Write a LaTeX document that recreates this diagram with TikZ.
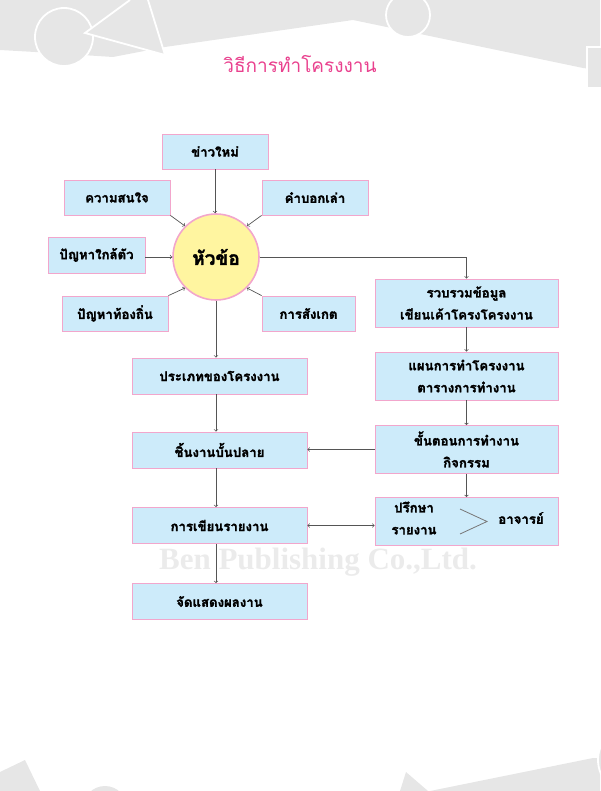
\documentclass[tikz,border=0pt]{standalone}
\usepackage{fontspec}
\newfontfamily\thaifont[Script=Thai,BoldFeatures={FakeBold=1.8}]{Loma}
\setmainfont{Liberation Serif}
\definecolor{boxfill}{HTML}{CDEBFA}
\definecolor{boxline}{HTML}{F2A6CC}
\definecolor{topicfill}{HTML}{FFF5A0}
\definecolor{titlepink}{HTML}{E9418E}
\definecolor{bggray}{HTML}{E6E6E6}
\definecolor{wire}{HTML}{555555}
\begin{document}
\begin{tikzpicture}[x=1pt,y=-1pt,
  box/.style={draw=boxline,fill=boxfill,line width=0.8pt,inner sep=0pt,
    minimum width=106,minimum height=35,align=center,
    font=\thaifont\bfseries\fontsize{13.2}{22}\selectfont},
  wide/.style={box,minimum width=175,minimum height=36},
  rbox/.style={box,minimum width=183,minimum height=48},
  topic/.style={circle,draw=boxline,fill=topicfill,line width=1.6pt,
    minimum size=86,inner sep=0pt,font=\thaifont\bfseries\fontsize{19}{22}\selectfont},
  link/.style={draw=wire,line width=0.7pt,->},
  outline/.style={draw=white,fill=bggray,line width=1.8pt}]
\useasboundingbox (0,0) rectangle (600,791);
% background shapes
\fill[bggray] (0,0) -- (600,0) -- (600,70) -- (583,68) -- (353,20) -- (165,47) -- (113,57) -- (35,52) -- (0,50) -- cycle;
\filldraw[outline] (64,37) circle (29);
\filldraw[outline] (148,0) -- (165,55) -- (85,33) -- (130,0);
\filldraw[outline] (408,15) circle (22);
\filldraw[outline] (605,47) -- (587,47) -- (587,88) -- (605,88);
\fill[bggray] (0,772) -- (25,760) -- (40,791) -- (0,791) -- cycle;
\fill[bggray] (105,808) circle (22);
\fill[bggray] (406,772) -- (428,791) -- (400,791) -- cycle;
\fill[bggray] (430,791) -- (593,758) -- (600,758) -- (600,791) -- cycle;
\filldraw[outline] (632,760) circle (34);
% title and watermark
\node[text=titlepink,font=\thaifont\fontsize{19}{22}\selectfont] (title) at (300,64) {วิธีการทำโครงงาน};
\node[text=black!8,font=\bfseries\fontsize{31}{34}\selectfont] (mark) at (318,562) {Ben Publishing Co.,Ltd.};
% topic and sources
\node[topic] (hua) at (216,257) {หัวข้อ};
\node[box] (khao) at (215,151.5) {ข่าวใหม่};
\node[box] (khwam) at (117,197.5) {ความสนใจ};
\node[box] (kham) at (315,197.5) {คำบอกเล่า};
\node[box,minimum width=97,minimum height=36] (klai) at (96.5,255) {ปัญหาใกล้ตัว};
\node[box] (thong) at (115,313.5) {ปัญหาท้องถิ่น};
\node[box,minimum width=93] (sangket) at (308.5,313.5) {การสังเกต};
% left column
\node[wide] (praphet) at (219.5,376) {ประเภทของโครงงาน};
\node[wide] (chin) at (219.5,450) {ชิ้นงานบั้นปลาย};
\node[wide] (khian) at (219.5,525.5) {การเขียนรายงาน};
\node[wide] (jat) at (219.5,601.5) {จัดแสดงผลงาน};
% right column
\node[rbox] (ruam) at (466.5,303) {รวบรวมข้อมูล\\เขียนเค้าโครงโครงงาน};
\node[rbox] (phaen) at (466.5,376) {แผนการทำโครงงาน\\ตารางการทำงาน};
\node[rbox] (khan) at (466.5,449.5) {ขั้นตอนการทำงาน\\กิจกรรม};
\node[rbox] (prueksa) at (466.5,521.5) {};
\node[font=\thaifont\bfseries\fontsize{13.2}{22}\selectfont,align=center] (prk) at (414,518) {ปรึกษา\\รายงาน};
\node[font=\thaifont\bfseries\fontsize{13.2}{22}\selectfont] (ajarn) at (521,518) {อาจารย์};
\draw[wire!80,line width=0.8pt] (460,509) -- (487,521.5) -- (460,534);
% connectors
\draw[link] (khao) -- (khao |- hua.north);
\draw[link] (khwam.south east) -- (hua.135);
\draw[link] (kham.south west) -- (hua.45);
\draw[link] (hua.west -| klai.east) -- (hua.west);
\draw[link] (thong.north east) -- (hua.225);
\draw[link] (sangket.north west) -- (hua.315);
\draw[link] (hua.south) -- (hua.south |- praphet.north);
\draw[link] (praphet.south -| hua) -- (chin.north -| hua);
\draw[link] (chin.south -| hua) -- (khian.north -| hua);
\draw[link] (khian.south -| hua) -- (jat.north -| hua);
\draw[link] (hua.east) -| (ruam.north);
\draw[link] (ruam) -- (phaen);
\draw[link] (phaen) -- (khan);
\draw[link] (khan) -- (prueksa);
\draw[link] (khan.west) -- (khan.west -| chin.east);
\draw[link,<->] (khian.east) -- (khian.east -| prueksa.west);
\end{tikzpicture}
\end{document}
